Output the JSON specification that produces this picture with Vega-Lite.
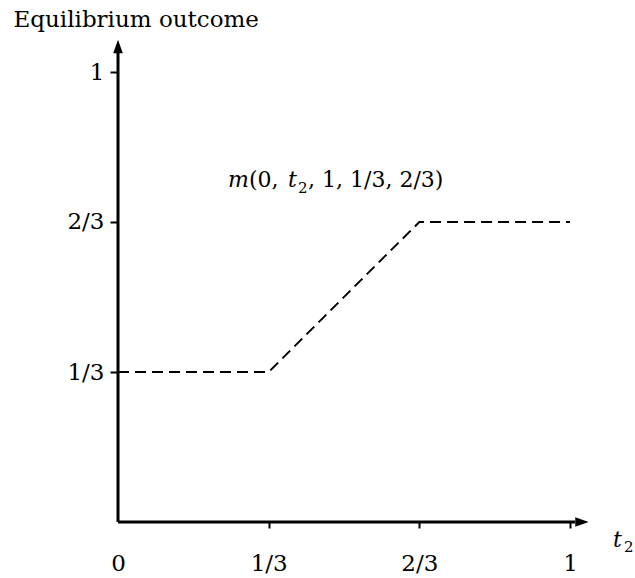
{
  "$schema": "https://vega.github.io/schema/vega-lite/v6.json",
  "width": 452,
  "height": 450,
  "autosize": {"type": "none"},
  "padding": {"left": 118, "top": 72, "right": 65, "bottom": 56},
  "background": "white",
  "config": {"view": {"stroke": null}, "font": "DejaVu Serif"},
  "datasets": {
    "curve": [
      {"t2": 0, "m": 0.3333333},
      {"t2": 0.3333333, "m": 0.3333333},
      {"t2": 0.6666667, "m": 0.6666667},
      {"t2": 1, "m": 0.6666667}
    ],
    "axislines": [
      {"x": 0, "y": 0, "x2": 1.011, "y2": 0},
      {"x": 0, "y": 0, "x2": 0, "y2": 1.042}
    ],
    "arrows": [
      {"x": 1.0265, "y": 0, "dir": "right"},
      {"x": 0, "y": 1.0567, "dir": "up"}
    ],
    "italic": [
      {"x": 0.2434, "y": 0.7444, "text": "m"},
      {"x": 0.3761, "y": 0.7444, "text": "t"},
      {"x": 1.0951, "y": -0.0556, "text": "t"}
    ],
    "normal": [
      {"x": 0.2898, "y": 0.7444, "text": "(0,"},
      {"x": 0.4204, "y": 0.7444, "text": ", 1, 1/3, 2/3)"}
    ],
    "sub": [
      {"x": 0.3982, "y": 0.7311, "text": "2"},
      {"x": 1.1195, "y": -0.0667, "text": "2"}
    ]
  },
  "layer": [
    {
      "data": {"name": "curve"},
      "mark": {"type": "line", "color": "black", "strokeWidth": 2, "strokeDash": [11, 6]},
      "encoding": {
        "x": {
          "field": "t2", "type": "quantitative",
          "scale": {"domain": [0, 1], "nice": false, "zero": false},
          "axis": {
            "values": [0, 0.3333333, 0.6666667, 1],
            "labelExpr": "datum.value < 0.1 ? '0' : datum.value < 0.5 ? '1/3' : datum.value < 0.9 ? '2/3' : '1'",
            "domain": false, "grid": false,
            "tickSize": 6, "tickWidth": 2, "tickColor": "black",
            "tickOpacity": {"condition": {"test": "datum.value < 0.1", "value": 0}, "value": 1},
            "labelFont": "DejaVu Serif", "labelFontSize": 23, "labelColor": "black",
            "labelBaseline": "alphabetic", "labelPadding": 42, "labelFlush": false,
            "labelOverlap": false,
            "title": null
          }
        },
        "y": {
          "field": "m", "type": "quantitative",
          "scale": {"domain": [0, 1], "nice": false, "zero": false},
          "axis": {
            "values": [0.3333333, 0.6666667, 1],
            "labelExpr": "datum.value < 0.5 ? '1/3' : datum.value < 0.9 ? '2/3' : '1'",
            "domain": false, "grid": false,
            "tickSize": 8, "tickWidth": 2, "tickColor": "black",
            "labelFont": "DejaVu Serif", "labelFontSize": 23, "labelColor": "black",
            "labelPadding": 6, "labelFlush": false, "labelOverlap": false,
            "title": "Equilibrium outcome",
            "titleAngle": 0, "titleAlign": "left", "titleBaseline": "alphabetic",
            "titleX": -105, "titleY": -46,
            "titleFont": "DejaVu Serif", "titleFontSize": 23,
            "titleFontWeight": "normal", "titleColor": "black"
          }
        }
      }
    },
    {
      "data": {"name": "axislines"},
      "mark": {"type": "rule", "color": "black", "strokeWidth": 3},
      "encoding": {
        "x": {"field": "x", "type": "quantitative"},
        "y": {"field": "y", "type": "quantitative"},
        "x2": {"field": "x2"},
        "y2": {"field": "y2"}
      }
    },
    {
      "data": {"name": "arrows"},
      "mark": {"type": "point", "filled": true, "color": "black", "opacity": 1, "size": 180, "strokeWidth": 0},
      "encoding": {
        "x": {"field": "x", "type": "quantitative"},
        "y": {"field": "y", "type": "quantitative"},
        "shape": {
          "field": "dir", "type": "nominal",
          "scale": {"domain": ["up", "right"], "range": ["M0,-1L0.72,1L-0.72,1Z", "M1,0L-1,-0.72L-1,0.72Z"]},
          "legend": null
        }
      }
    },
    {
      "data": {"name": "italic"},
      "mark": {"type": "text", "font": "DejaVu Serif", "fontStyle": "italic", "fontSize": 22, "align": "left", "baseline": "alphabetic", "color": "black"},
      "encoding": {
        "x": {"field": "x", "type": "quantitative"},
        "y": {"field": "y", "type": "quantitative"},
        "text": {"field": "text"}
      }
    },
    {
      "data": {"name": "normal"},
      "mark": {"type": "text", "font": "DejaVu Serif", "fontSize": 22, "align": "left", "baseline": "alphabetic", "color": "black"},
      "encoding": {
        "x": {"field": "x", "type": "quantitative"},
        "y": {"field": "y", "type": "quantitative"},
        "text": {"field": "text"}
      }
    },
    {
      "data": {"name": "sub"},
      "mark": {"type": "text", "font": "DejaVu Serif", "fontSize": 15, "align": "left", "baseline": "alphabetic", "color": "black"},
      "encoding": {
        "x": {"field": "x", "type": "quantitative"},
        "y": {"field": "y", "type": "quantitative"},
        "text": {"field": "text"}
      }
    }
  ]
}
